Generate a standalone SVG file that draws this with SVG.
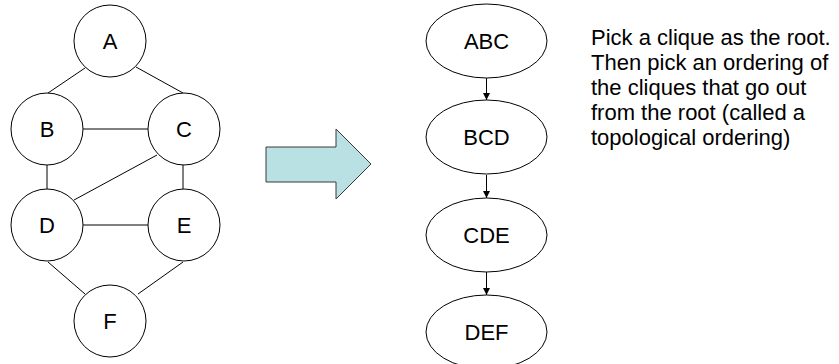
<svg xmlns="http://www.w3.org/2000/svg" width="839" height="364" viewBox="0 0 839 364">
<style>
.n{fill:#fff;stroke:#000;stroke-width:1}
.e{stroke:#000;stroke-width:1;fill:none}
.t{font-family:"Liberation Sans",Arial,sans-serif;font-size:22px;fill:#000;text-anchor:middle}
.p{font-family:"Liberation Sans",Arial,sans-serif;font-size:22px;fill:#000}
</style>
<defs>
<marker id="ah" viewBox="0 0 10 10" refX="10" refY="5" markerWidth="7" markerHeight="7" markerUnits="userSpaceOnUse" orient="auto">
<path d="M0,0 L10,5 L0,10 z" fill="#000"/>
</marker>
</defs>
<g id="connectors">
<line class="e" x1="85" y1="68" x2="48" y2="93"/>
<line class="e" x1="136" y1="67" x2="183" y2="93"/>
<line class="e" x1="83" y1="129" x2="148" y2="129"/>
<line class="e" x1="47" y1="165" x2="47" y2="189"/>
<line class="e" x1="157" y1="155" x2="74" y2="200"/>
<line class="e" x1="183" y1="165" x2="183" y2="189"/>
<line class="e" x1="83" y1="225" x2="148" y2="225"/>
<line class="e" x1="48" y1="262" x2="85" y2="294"/>
<line class="e" x1="183" y1="262" x2="138" y2="294"/>
<line class="e" x1="486.5" y1="78" x2="486.5" y2="100" marker-end="url(#ah)"/>
<line class="e" x1="486.5" y1="175" x2="486.5" y2="198" marker-end="url(#ah)"/>
<line class="e" x1="486.5" y1="272" x2="486.5" y2="295" marker-end="url(#ah)"/>
</g>
<g id="A"><circle class="n" cx="110" cy="41" r="36"/><text class="t" x="110" y="49">A</text></g>
<g id="B"><circle class="n" cx="47" cy="129" r="36"/><text class="t" x="47" y="137">B</text></g>
<g id="C"><circle class="n" cx="184" cy="129" r="36"/><text class="t" x="184" y="137">C</text></g>
<g id="D"><circle class="n" cx="47" cy="225" r="36"/><text class="t" x="47" y="233">D</text></g>
<g id="E"><circle class="n" cx="184" cy="225" r="36"/><text class="t" x="184" y="233">E</text></g>
<g id="F"><circle class="n" cx="110" cy="321" r="36"/><text class="t" x="110" y="329">F</text></g>
<g id="bigarrow"><path d="M266,147 L336,147 L336,129 L371,164 L336,199 L336,182 L266,182 Z" fill="#b9e0e2" stroke="#3a3a3a" stroke-width="1"/></g>
<g id="ABC"><ellipse class="n" cx="486.5" cy="41" rx="60.5" ry="37"/><text class="t" x="486.5" y="49">ABC</text></g>
<g id="BCD"><ellipse class="n" cx="486.5" cy="137" rx="60.5" ry="37"/><text class="t" x="486.5" y="145">BCD</text></g>
<g id="CDE"><ellipse class="n" cx="486.5" cy="235" rx="60.5" ry="37"/><text class="t" x="486.5" y="243">CDE</text></g>
<g id="DEF"><ellipse class="n" cx="486.5" cy="332" rx="60.5" ry="37"/><text class="t" x="486.5" y="340">DEF</text></g>
<g id="note">
<text class="p" x="591" y="45">Pick a clique as the root.</text>
<text class="p" x="591" y="70">Then pick an ordering of</text>
<text class="p" x="591" y="95">the cliques that go out</text>
<text class="p" x="591" y="120">from the root (called a</text>
<text class="p" x="591" y="145">topological ordering)</text>
</g>
</svg>
